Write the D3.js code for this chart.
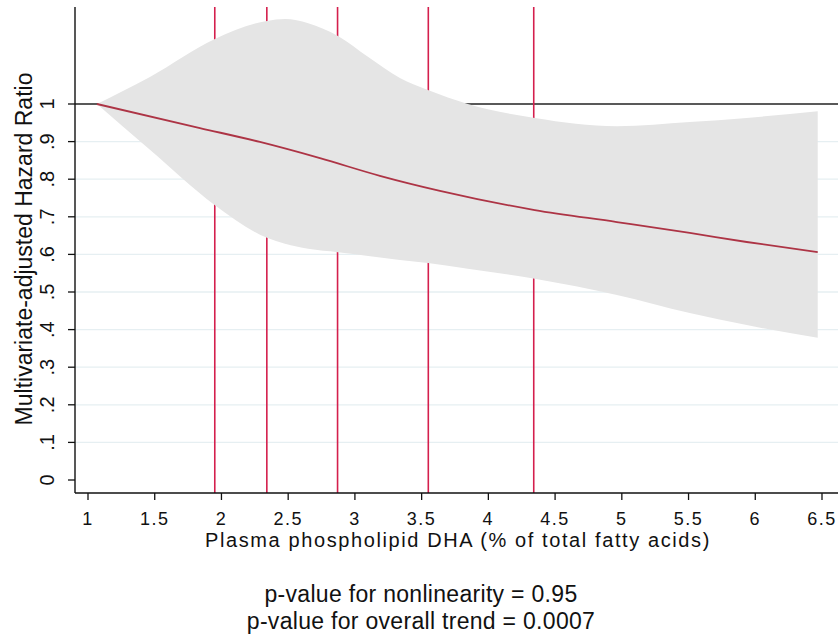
<!DOCTYPE html>
<html>
<head>
<meta charset="utf-8">
<script src="https://cdn.jsdelivr.net/npm/d3@7"></script>
<style>
  body { margin: 0; background: #fff; }
  text { font-family: "Liberation Sans", Arial, sans-serif; fill: #111; }
</style>
</head>
<body>
<div id="chart"></div>
<script>
// --- datos ---
const xTicks = [1, 1.5, 2, 2.5, 3, 3.5, 4, 4.5, 5, 5.5, 6, 6.5];
const yTicks = [0, .1, .2, .3, .4, .5, .6, .7, .8, .9, 1];
const knots = [1.95, 2.34, 2.87, 3.55, 4.34];

const ciX     = [1.067, 1.464, 1.951, 2.341, 2.476, 2.65, 2.873, 3.1, 3.337, 3.547, 3.846, 4.348, 4.963, 5.509, 5.936, 6.468];
const ciUpper = [1.0, 1.072, 1.173, 1.221, 1.226, 1.215, 1.181, 1.125, 1.069, 1.037, 1.0, 0.963, 0.941, 0.952, 0.963, 0.981];
const ciLower = [1.0, 0.878, 0.731, 0.644, 0.628, 0.615, 0.606, 0.596, 0.585, 0.577, 0.562, 0.535, 0.492, 0.444, 0.412, 0.378];

const fitX  = [1.067, 1.839, 2.288, 2.738, 3.187, 3.637, 4.348, 4.963, 5.509, 5.936, 6.468];
const fitHR = [1.0, 0.936, 0.899, 0.856, 0.809, 0.769, 0.718, 0.686, 0.657, 0.633, 0.606];

const notes = ["p-value for nonlinearity = 0.95", "p-value for overall trend = 0.0007"];

// --- lienzo ---
const W = 840, H = 641;
const axisX = 75, axisY = 493, plotTop = 7, plotRight = 838;

const svg = d3.select("#chart").append("svg")
  .attr("width", W).attr("height", H);

const x = d3.scaleLinear().domain([1, 6.5]).range([88, 822]);
const y = d3.scaleLinear().domain([0, 1]).range([480, 104]);

// rejilla
svg.append("g").selectAll("line")
  .data(yTicks.filter(d => d > 0 && d < 1))
  .enter().append("line")
    .attr("x1", axisX).attr("x2", plotRight)
    .attr("y1", d => y(d)).attr("y2", d => y(d))
    .attr("stroke", "#e6eff2").attr("stroke-width", 1.3);

// línea de referencia HR = 1
svg.append("line")
  .attr("x1", axisX).attr("x2", plotRight)
  .attr("y1", y(1)).attr("y2", y(1))
  .attr("stroke", "#222").attr("stroke-width", 1.3);

// nodos del spline
svg.append("g").selectAll("line")
  .data(knots)
  .enter().append("line")
    .attr("x1", d => x(d)).attr("x2", d => x(d))
    .attr("y1", plotTop).attr("y2", axisY)
    .attr("stroke", "#d41f4d").attr("stroke-width", 1.6);

// banda IC 95%
const band = ciX.map((d, i) => ({x: d, lo: ciLower[i], hi: ciUpper[i]}));
svg.append("path")
  .datum(band)
  .attr("fill", "#e5e5e5")
  .attr("d", d3.area()
    .curve(d3.curveMonotoneX)
    .x(d => x(d.x)).y0(d => y(d.lo)).y1(d => y(d.hi)));

// curva ajustada
const fit = fitX.map((d, i) => ({x: d, v: fitHR[i]}));
svg.append("path")
  .datum(fit)
  .attr("fill", "none")
  .attr("stroke", "#ad3445").attr("stroke-width", 1.8)
  .attr("d", d3.line().curve(d3.curveMonotoneX).x(d => x(d.x)).y(d => y(d.v)));

// --- ejes ---
svg.append("line")
  .attr("x1", axisX).attr("x2", axisX).attr("y1", plotTop).attr("y2", axisY)
  .attr("stroke", "#111").attr("stroke-width", 1.4);
svg.append("line")
  .attr("x1", axisX).attr("x2", plotRight).attr("y1", axisY).attr("y2", axisY)
  .attr("stroke", "#111").attr("stroke-width", 1.4);

const yAxis = svg.append("g");
yAxis.selectAll("line").data(yTicks).enter().append("line")
  .attr("x1", axisX - 7).attr("x2", axisX)
  .attr("y1", d => y(d)).attr("y2", d => y(d))
  .attr("stroke", "#111").attr("stroke-width", 1.3);
yAxis.selectAll("text").data(yTicks).enter().append("text")
  .attr("transform", d => `translate(54,${y(d)}) rotate(-90)`)
  .attr("text-anchor", "middle")
  .style("font-size", "20px")
  .text(d => d === 0 ? "0" : d === 1 ? "1" : String(d).replace("0.", "."));

const xAxis = svg.append("g");
xAxis.selectAll("line").data(xTicks).enter().append("line")
  .attr("x1", d => x(d)).attr("x2", d => x(d))
  .attr("y1", axisY).attr("y2", axisY + 7)
  .attr("stroke", "#111").attr("stroke-width", 1.3);
xAxis.selectAll("text").data(xTicks).enter().append("text")
  .attr("x", d => x(d)).attr("y", 525)
  .attr("text-anchor", "middle")
  .style("font-size", "18px")
  .style("letter-spacing", "1.5px")
  .text(d => d);

// títulos
svg.append("text")
  .attr("x", 458).attr("y", 547)
  .attr("text-anchor", "middle")
  .style("font-size", "20px")
  .style("letter-spacing", "1.6px")
  .text("Plasma phospholipid DHA (% of total fatty acids)");

svg.append("text")
  .attr("transform", `translate(32,249) rotate(-90)`)
  .attr("text-anchor", "middle")
  .style("font-size", "23px")
  .text("Multivariate-adjusted Hazard Ratio");

svg.append("g").selectAll("text")
  .data(notes)
  .enter().append("text")
    .attr("x", 421).attr("y", (d, i) => 602 + i * 27)
    .attr("text-anchor", "middle")
    .style("font-size", "23px")
    .style("letter-spacing", "0.3px")
    .text(d => d);
</script>
</body>
</html>
